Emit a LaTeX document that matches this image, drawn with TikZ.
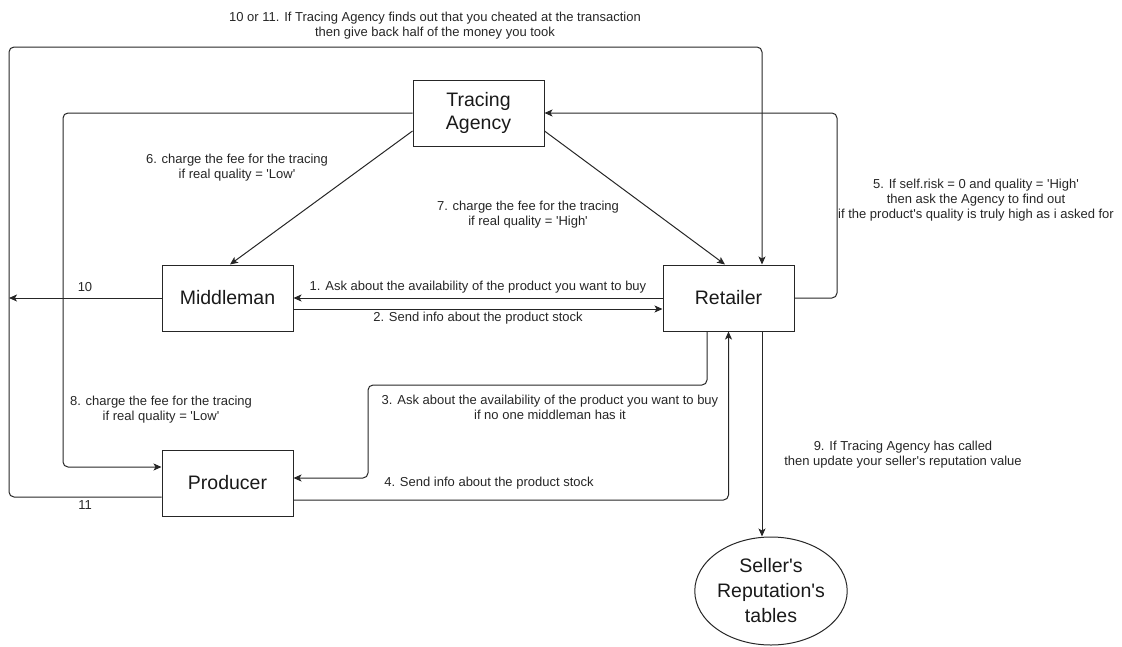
\documentclass[tikz,border=0pt]{standalone}
\usepackage{fontspec}
\setmainfont{Liberation Sans}
\usetikzlibrary{arrows.meta,shapes.geometric}
\newcommand{\ap}{\textquotesingle}
\begin{document}
\begin{tikzpicture}[x=1pt,y=-1pt,
  box/.style={draw=black!85,line width=1pt,minimum width=131pt,minimum height=66pt,inner sep=0pt,
    align=center,font=\fontsize{19.5}{23}\selectfont,text=black!90},
  lbl/.style={align=center,inner sep=0pt,font=\fontsize{13}{15}\selectfont,text=black!85},
  arr/.style={draw=black!85,line width=1pt,-{Stealth[length=8pt,width=7pt,inset=2pt]}},
  ln/.style={draw=black!85,line width=1pt},
  rc/.style={rounded corners=5pt}]
\useasboundingbox (0,0) rectangle (1122,646);
% nodes
\node[box] (ta) at (478.5,113) {Tracing\\Agency};
\node[box] (mm) at (227.5,298) {Middleman};
\node[box] (rt) at (728.5,298) {Retailer};
\node[box] (pr) at (227.5,483) {Producer};
\node[draw=black!85,line width=1pt,ellipse,minimum width=132pt,minimum height=108pt,inner sep=0pt,
  align=center,font=\fontsize{19.5}{25}\selectfont,text=black!90] (srt) at (771,591)
  {Seller\ap s\\Reputation\ap s\\tables};
% waypoints
\coordinate (oL) at (9,47);
\coordinate (c5) at (837,113);
\coordinate (c8) at (63,113);
\coordinate (c3) at (368,385);
% connectors
\draw[arr] ([yshift=-18pt]ta.west) -- ([xshift=2.5pt]mm.north);
\draw[arr] ([yshift=-18pt]ta.east) -- ([xshift=-3.5pt]rt.north);
\draw[arr,rc] ([yshift=-14pt]pr.west) -| (oL) -| ([xshift=33.5pt]rt.north);
\draw[arr] (mm.west) -- (mm.west -| oL);
\draw[arr,rc] (rt.east) -| (c5) -- (ta.east);
\draw[arr,rc] (ta.west) -- (c8) |- ([yshift=16pt]pr.west);
\draw[arr,rc] ([xshift=-21.5pt]rt.south) |- (c3) |- ([yshift=5pt]pr.east);
\draw[arr,rc] ([yshift=-17pt]pr.east) -| (rt.south);
\draw[arr] (rt.west) -- (mm.east);
\draw[arr] ([yshift=-11pt]mm.east) -- ([yshift=-11pt]rt.west);
\draw[arr] ([xshift=33.5pt]rt.south) -- ([xshift=-9pt]srt.north);
% labels
\node[lbl] (l1011) at (435,25.5) {10 or 11. If Tracing Agency finds out that you cheated at the transaction\\then give back half of the money you took};
\node[lbl] (l6) at (237,167.5) {6. charge the fee for the tracing\\if real quality = \ap Low\ap};
\node[lbl] (l7) at (528,214.5) {7. charge the fee for the tracing\\if real quality = \ap High\ap};
\node[lbl] (l5) at (976,200) {5. If self.risk = 0 and quality = \ap High\ap\\then ask the Agency to find out\\if the product\ap s quality is truly high as i asked for};
\node[lbl] (l1) at (478,287) {1. Ask about the availability of the product you want to buy};
\node[lbl] (l2) at (478,318) {2. Send info about the product stock};
\node[lbl] (l10) at (85,287) {10};
\node[lbl] (l8) at (161,410) {8. charge the fee for the tracing\\if real quality = \ap Low\ap};
\node[lbl] (l3) at (550,407.5) {3. Ask about the availability of the product you want to buy\\if no one middleman has it};
\node[lbl] (l4) at (489,483) {4. Send info about the product stock};
\node[lbl] (l11) at (85,505) {11};
\node[lbl] (l9) at (903,455) {9. If Tracing Agency has called\\then update your seller\ap s reputation value};
\end{tikzpicture}
\end{document}
